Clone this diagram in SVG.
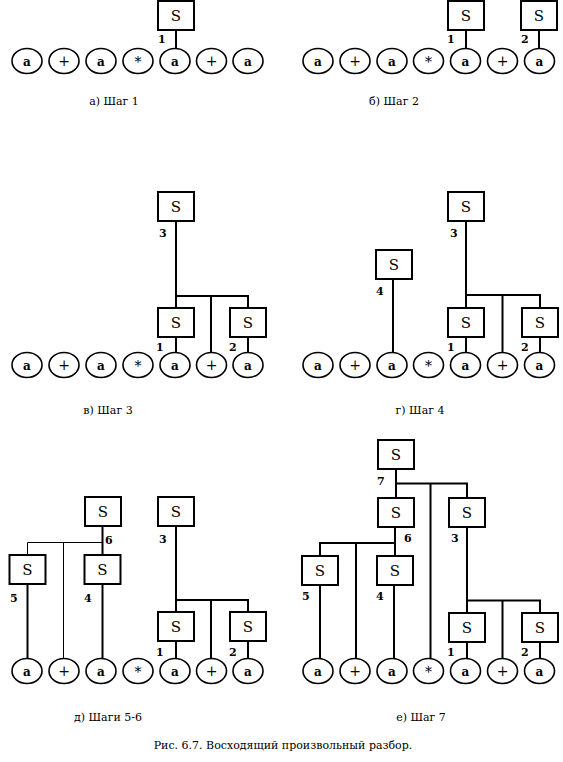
<svg xmlns="http://www.w3.org/2000/svg" width="563" height="762" viewBox="0 0 563 762">
<style>
.bx{fill:#fff;stroke:#000;stroke-width:2}
.c{fill:#fff;stroke:#000;stroke-width:1.6}
.ln{stroke:#000;stroke-width:2;fill:none}
.th{stroke:#000;stroke-width:1;fill:none}
.s{font-size:15px;text-anchor:middle}
.a{font-size:12px;font-weight:bold;text-anchor:middle}
.o{font-size:14px;text-anchor:middle}
.n{font-size:11px;font-weight:bold}
.cap{font-size:11px;text-anchor:middle}
</style>
<defs>
<g id="ca"><ellipse class="c" cx="0" cy="0" rx="15" ry="12.5"/><text class="a" x="0" y="4.5">a</text></g>
<g id="cp"><ellipse class="c" cx="0" cy="0" rx="15" ry="12.5"/><text class="o" x="0" y="5">+</text></g>
<g id="cs"><ellipse class="c" cx="0" cy="0" rx="15" ry="12.5"/><text class="o" x="0" y="6">*</text></g>
<g id="sb"><rect class="bx" x="-18" y="0" width="36" height="29"/><text class="s" x="0" y="20">S</text></g>
</defs>
<g font-family="DejaVu Serif, serif">
<!-- Panel a -->
<g id="p1-leaves">
<use href="#ca" x="27" y="61"/><use href="#cp" x="64" y="61"/><use href="#ca" x="101" y="61"/><use href="#cs" x="138" y="61"/><use href="#ca" x="175" y="61"/><use href="#cp" x="211.5" y="61"/><use href="#ca" x="248" y="61"/>
</g>
<g id="p1-s1"><use href="#sb" x="176" y="1"/><text class="n" x="158" y="43">1</text></g>
<g id="p1-edges"><line class="ln" x1="176" y1="30" x2="176" y2="48.5"/></g>
<text class="cap" x="114" y="105">а) Шаг 1</text>

<!-- Panel b -->
<g id="p2-leaves">
<use href="#ca" x="318" y="61"/><use href="#cp" x="355" y="61"/><use href="#ca" x="392" y="61"/><use href="#cs" x="428.5" y="61"/><use href="#ca" x="465.5" y="61"/><use href="#cp" x="502.5" y="61"/><use href="#ca" x="539.5" y="61"/>
</g>
<g id="p2-s1"><use href="#sb" x="466" y="1"/><text class="n" x="447" y="43">1</text></g>
<g id="p2-s2"><use href="#sb" x="539" y="1"/><text class="n" x="521" y="43">2</text></g>
<g id="p2-edges"><line class="ln" x1="466" y1="30" x2="466" y2="48.5"/><line class="ln" x1="539" y1="30" x2="539" y2="48.5"/></g>
<text class="cap" x="394" y="105">б) Шаг 2</text>

<!-- Panel v -->
<g id="p3-leaves">
<use href="#ca" x="27" y="365"/><use href="#cp" x="64" y="365"/><use href="#ca" x="101" y="365"/><use href="#cs" x="138" y="365"/><use href="#ca" x="175" y="365"/><use href="#cp" x="211.5" y="365"/><use href="#ca" x="248" y="365"/>
</g>
<g id="p3-s3"><use href="#sb" x="176" y="192"/><text class="n" x="159" y="237">3</text></g>
<g id="p3-s1"><use href="#sb" x="176" y="308"/><text class="n" x="156" y="351">1</text></g>
<g id="p3-s2"><use href="#sb" x="248" y="308"/><text class="n" x="229" y="351">2</text></g>
<g id="p3-edges">
<line class="ln" x1="176" y1="221" x2="176" y2="308"/>
<line class="ln" x1="175" y1="296" x2="249" y2="296"/>
<line class="ln" x1="211" y1="296" x2="211" y2="352.5"/>
<line class="ln" x1="248" y1="296" x2="248" y2="308"/>
<line class="ln" x1="176" y1="337" x2="176" y2="352.5"/>
<line class="ln" x1="248" y1="337" x2="248" y2="352.5"/>
</g>
<text class="cap" x="108" y="414">в) Шаг 3</text>

<!-- Panel g -->
<g id="p4-leaves">
<use href="#ca" x="318" y="365"/><use href="#cp" x="355" y="365"/><use href="#ca" x="392" y="365"/><use href="#cs" x="428.5" y="365"/><use href="#ca" x="465.5" y="365"/><use href="#cp" x="502.5" y="365"/><use href="#ca" x="539.5" y="365"/>
</g>
<g id="p4-s3"><use href="#sb" x="466" y="192"/><text class="n" x="450" y="237">3</text></g>
<g id="p4-s4"><use href="#sb" x="394" y="250"/><text class="n" x="376" y="295">4</text></g>
<g id="p4-s1"><use href="#sb" x="466" y="308"/><text class="n" x="447" y="351">1</text></g>
<g id="p4-s2"><use href="#sb" x="540" y="308"/><text class="n" x="521" y="351">2</text></g>
<g id="p4-edges">
<line class="ln" x1="393" y1="279" x2="393" y2="352.5"/>
<line class="ln" x1="466" y1="221" x2="466" y2="308"/>
<line class="ln" x1="465" y1="295" x2="541" y2="295"/>
<line class="ln" x1="502.5" y1="295" x2="502.5" y2="352.5"/>
<line class="ln" x1="540" y1="295" x2="540" y2="308"/>
<line class="ln" x1="466" y1="337" x2="466" y2="352.5"/>
<line class="ln" x1="540" y1="337" x2="540" y2="352.5"/>
</g>
<text class="cap" x="420" y="414">г) Шаг 4</text>

<!-- Panel d -->
<g id="p5-leaves">
<use href="#ca" x="27" y="671"/><use href="#cp" x="64" y="671"/><use href="#ca" x="101" y="671"/><use href="#cs" x="138" y="671"/><use href="#ca" x="175" y="671"/><use href="#cp" x="211.5" y="671"/><use href="#ca" x="248" y="671"/>
</g>
<g id="p5-s6"><use href="#sb" x="103" y="497"/><text class="n" x="105" y="544">6</text></g>
<g id="p5-s5"><use href="#sb" x="27.5" y="555"/><text class="n" x="10" y="602">5</text></g>
<g id="p5-s4"><use href="#sb" x="102.5" y="555"/><text class="n" x="84" y="602">4</text></g>
<g id="p5-s3"><use href="#sb" x="176" y="497"/><text class="n" x="159" y="543">3</text></g>
<g id="p5-s1"><use href="#sb" x="176" y="612"/><text class="n" x="156" y="656">1</text></g>
<g id="p5-s2"><use href="#sb" x="248" y="612"/><text class="n" x="229" y="656">2</text></g>
<g id="p5-edges">
<line class="ln" x1="102.5" y1="526" x2="102.5" y2="555"/>
<line class="th" x1="27.5" y1="542.5" x2="102.5" y2="542.5"/>
<line class="th" x1="27.5" y1="542.5" x2="27.5" y2="555"/>
<line class="th" x1="63.5" y1="542.5" x2="63.5" y2="658.5"/>
<line class="ln" x1="27.5" y1="584" x2="27.5" y2="658.5"/>
<line class="ln" x1="102.5" y1="584" x2="102.5" y2="658.5"/>
<line class="ln" x1="176" y1="526" x2="176" y2="612"/>
<line class="ln" x1="175" y1="600" x2="249" y2="600"/>
<line class="ln" x1="211" y1="600" x2="211" y2="658.5"/>
<line class="ln" x1="248" y1="600" x2="248" y2="612"/>
<line class="ln" x1="176" y1="641" x2="176" y2="658.5"/>
<line class="ln" x1="248" y1="641" x2="248" y2="658.5"/>
</g>
<text class="cap" x="108" y="721">д) Шаги 5-6</text>

<!-- Panel e -->
<g id="p6-leaves">
<use href="#ca" x="318" y="671"/><use href="#cp" x="355" y="671"/><use href="#ca" x="392" y="671"/><use href="#cs" x="428.5" y="671"/><use href="#ca" x="465.5" y="671"/><use href="#cp" x="502.5" y="671"/><use href="#ca" x="539.5" y="671"/>
</g>
<g id="p6-s7"><use href="#sb" x="396" y="440"/><text class="n" x="377" y="485">7</text></g>
<g id="p6-s6"><use href="#sb" x="396" y="498"/><text class="n" x="404" y="542">6</text></g>
<g id="p6-s3"><use href="#sb" x="467" y="498"/><text class="n" x="451" y="542">3</text></g>
<g id="p6-s5"><use href="#sb" x="320" y="556"/><text class="n" x="302" y="600">5</text></g>
<g id="p6-s4"><use href="#sb" x="395" y="556"/><text class="n" x="376" y="600">4</text></g>
<g id="p6-s1"><use href="#sb" x="467" y="613"/><text class="n" x="447" y="656">1</text></g>
<g id="p6-s2"><use href="#sb" x="540" y="613"/><text class="n" x="521" y="656">2</text></g>
<g id="p6-edges">
<line class="ln" x1="396" y1="469" x2="396" y2="498"/>
<line class="ln" x1="395" y1="483.5" x2="468" y2="483.5"/>
<line class="ln" x1="430.5" y1="483.5" x2="430.5" y2="658.5"/>
<line class="ln" x1="467" y1="483.5" x2="467" y2="498"/>
<line class="ln" x1="395" y1="527" x2="395" y2="556"/>
<line class="ln" x1="319" y1="543" x2="396" y2="543"/>
<line class="ln" x1="320" y1="543" x2="320" y2="556"/>
<line class="ln" x1="356" y1="543" x2="356" y2="658.5"/>
<line class="ln" x1="320" y1="585" x2="320" y2="658.5"/>
<line class="ln" x1="394" y1="585" x2="394" y2="658.5"/>
<line class="ln" x1="467" y1="527" x2="467" y2="613"/>
<line class="ln" x1="466" y1="600.5" x2="541" y2="600.5"/>
<line class="ln" x1="502.5" y1="600.5" x2="502.5" y2="658.5"/>
<line class="ln" x1="540" y1="600.5" x2="540" y2="613"/>
<line class="ln" x1="467" y1="642" x2="467" y2="658.5"/>
<line class="ln" x1="540" y1="642" x2="540" y2="658.5"/>
</g>
<text class="cap" x="421" y="721">е) Шаг 7</text>

<text class="cap" x="283" y="749">Рис. 6.7. Восходящий произвольный разбор.</text>
</g>
</svg>
